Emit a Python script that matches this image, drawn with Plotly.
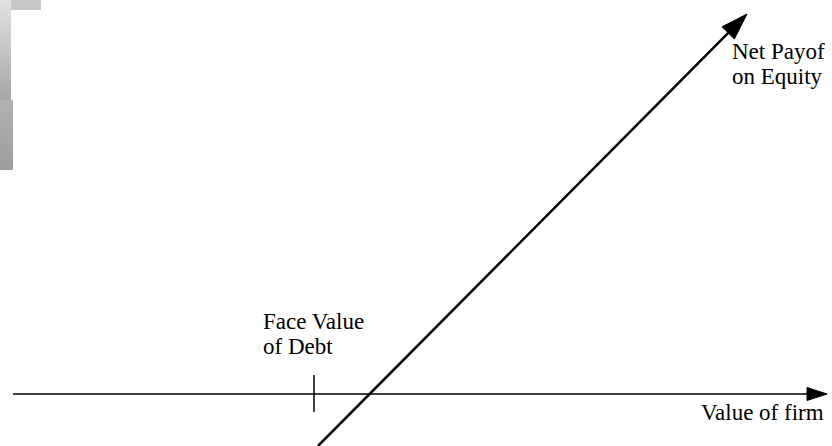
import plotly.graph_objects as go

# diagram in pixel-like units: y measured upward from the horizontal axis
axis_x = [13, 827]
axis_y = [0, 0]

face_value = 314
tick_y = [-18, 19]

payoff_x = [318, 747]
payoff_y = [-52, 380]

# label lines, each drawn separately to keep the tight line spacing
face_lines = ['Face Value', 'of Debt']
equity_lines = ['Net Payof', 'on Equity']
label_firm = 'Value of firm'

fnt = dict(family='Liberation Serif, Times New Roman, serif', size=23, color='black')

fig = go.Figure()

# horizontal axis with arrow
fig.add_trace(go.Scatter(
    x=axis_x, y=axis_y, mode='lines+markers',
    line=dict(color='black', width=1.5),
    marker=dict(symbol=['circle', 'arrow'], size=[0, 21], angleref='previous',
                color='#000000', opacity=1, line=dict(width=1, color='#000000')),
    hoverinfo='skip'))

# tick at face value of debt
fig.add_trace(go.Scatter(
    x=[face_value, face_value], y=tick_y, mode='lines',
    line=dict(color='black', width=1.5), hoverinfo='skip'))

# net payoff on equity
fig.add_trace(go.Scatter(
    x=payoff_x, y=payoff_y, mode='lines+markers',
    line=dict(color='black', width=2.5),
    marker=dict(symbol=['circle', 'arrow'], size=[0, 28], angleref='previous',
                color='#000000', opacity=1, line=dict(width=1, color='#000000')),
    hoverinfo='skip'))

# grey slide decoration top-left
shapes = []
steps = 50
for i in range(steps):
    t = i / (steps - 1)
    c = int(226 - t * (226 - 168))
    shapes.append(dict(type='rect', xref='paper', yref='paper', layer='below',
                       x0=0, x1=11 / 832, y0=1 - (i * 100 / steps) / 446,
                       y1=1 - ((i + 1) * 100 / steps + 1) / 446,
                       fillcolor='rgb(%d,%d,%d)' % (c, c, c), line=dict(width=0)))
for i in range(steps):
    t = i / (steps - 1)
    c = int(178 - t * (178 - 158))
    shapes.append(dict(type='rect', xref='paper', yref='paper', layer='below',
                       x0=0, x1=13 / 832, y0=1 - (100 + i * 70 / steps) / 446,
                       y1=1 - min(170, 100 + (i + 1) * 70 / steps + 1) / 446,
                       fillcolor='rgb(%d,%d,%d)' % (c, c, c), line=dict(width=0)))
shapes.append(dict(type='rect', xref='paper', yref='paper', layer='below',
                   x0=11 / 832, x1=41 / 832, y0=1, y1=1 - 10 / 446,
                   fillcolor='#c8c8c8', line=dict(width=0)))

annotations = []
for txt, yy in zip(face_lines, [87, 62]):
    annotations.append(dict(x=261, y=yy, text=txt, showarrow=False, xanchor='left',
                            yanchor='top', font=fnt))
for txt, yy in zip(equity_lines, [357, 332]):
    annotations.append(dict(x=730, y=yy, text=txt, showarrow=False, xanchor='left',
                            yanchor='top', font=fnt))
annotations.append(dict(x=826, y=-4, text=label_firm, showarrow=False, xanchor='right',
                        yanchor='top', font=fnt))

fig.update_layout(
    width=832, height=446,
    margin=dict(l=0, r=0, t=0, b=0),
    plot_bgcolor='white', paper_bgcolor='white',
    showlegend=False,
    shapes=shapes,
    annotations=annotations,
    xaxis=dict(range=[0, 832], visible=False, fixedrange=True),
    yaxis=dict(range=[-52, 394], visible=False, fixedrange=True),
)

fig.write_html('out.html', config={'displayModeBar': False},
               post_script="document.body.style.margin='0';document.body.style.overflow='hidden';")
